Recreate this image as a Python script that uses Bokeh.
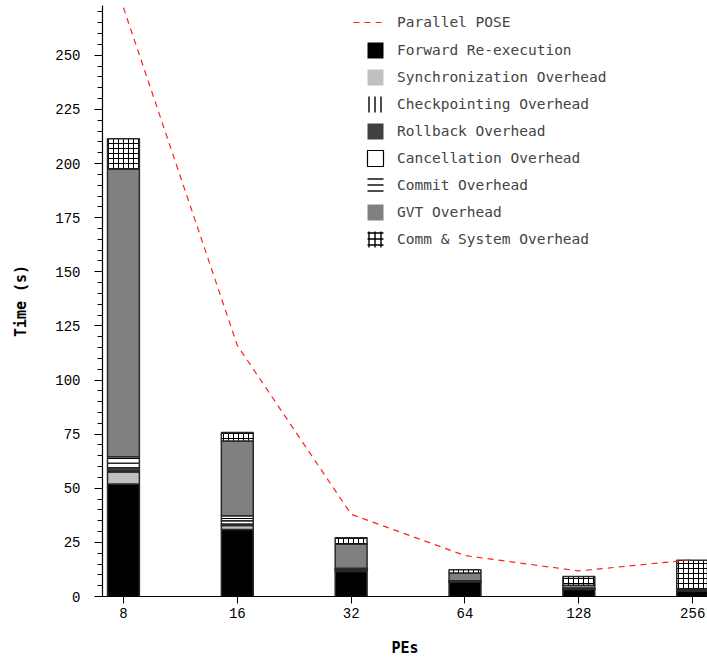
from bokeh.plotting import figure
from bokeh.models import (Range1d, FixedTicker, SingleIntervalTicker, Legend,
                          LegendItem, ColumnDataSource)
from bokeh.embed import file_html
from bokeh.resources import INLINE

# Processor counts (x categories)
pes = ["8", "16", "32", "64", "128", "256"]

# Time breakdown per component (seconds)
forward = [52.0, 31.0, 11.5, 6.6, 3.2, 2.5]
sync = [5.5, 1.8, 0.3, 0.1, 0.1, 0.1]
checkpoint = [0.5, 0.2, 0.1, 0.1, 0.1, 0.1]
rollback = [1.5, 0.5, 0.3, 0.2, 0.1, 0.1]
cancellation = [2.0, 1.5, 0.3, 0.1, 0.1, 0.1]
commit = [3.0, 2.3, 0.6, 0.2, 0.3, 0.2]
gvt = [133.0, 34.5, 11.0, 3.6, 1.3, 0.3]
comm = [14.0, 4.0, 3.0, 1.5, 4.0, 13.3]

# Total parallel run time
pose = [272.0, 116.0, 38.0, 18.9, 11.8, 17.0]

series_names = ["Forward Re-execution", "Synchronization Overhead",
                "Checkpointing Overhead", "Rollback Overhead",
                "Cancellation Overhead", "Commit Overhead", "GVT Overhead",
                "Comm & System Overhead"]
fills = ["#000000", "#c0c0c0", "#ffffff", "#404040", "#ffffff", "#ffffff",
         "#808080", "#ffffff"]
hatches = [" ", " ", "vertical_line", " ", " ", "horizontal_line", " ", "cross"]

idx = list(range(len(pes)))
keys = ["forward", "sync", "checkpoint", "rollback", "cancellation", "commit",
        "gvt", "comm"]
source = ColumnDataSource(dict(x=idx, forward=forward, sync=sync,
                               checkpoint=checkpoint, rollback=rollback,
                               cancellation=cancellation, commit=commit,
                               gvt=gvt, comm=comm))

MONO = "DejaVu Sans Mono"

p = figure(width=707, height=659, x_range=Range1d(-0.184, 5.13),
           y_range=Range1d(0, 273), output_backend="svg",
           toolbar_location=None, min_border_left=102, min_border_right=0,
           min_border_top=5, min_border_bottom=61)
p.outline_line_color = None
p.xgrid.visible = False
p.ygrid.visible = False
p.background_fill_color = "white"

BAR_W = 0.28
p.vbar_stack(keys, x="x", width=BAR_W, source=source,
             fill_color=fills, hatch_pattern=hatches,
             hatch_color="#000000", hatch_scale=5, hatch_weight=1,
             line_color="#2a2a2a", line_width=1.5)

pose_line = p.line(idx, pose, line_color="#ff2020", line_width=1.2,
                   line_dash="6 5")

# Key swatches: hidden copies of each series, styled for the legend only
bar_keys = []
for name, key, fc, hp in zip(series_names, keys, fills, hatches):
    lc = "#000000" if name == "Cancellation Overhead" else None
    r = p.vbar(x="x", top=key, source=source, width=BAR_W, fill_color=fc,
               hatch_pattern=hp, hatch_color="#000000", hatch_scale=6,
               hatch_weight=1.4, line_color=lc, line_width=1.2, visible=False)
    bar_keys.append(r)

common = dict(padding=0, margin=0, border_line_color=None,
              background_fill_alpha=0, inactive_fill_alpha=0,
              label_text_font=MONO, label_text_font_size="14.5px",
              label_height=20, glyph_height=20)
leg_line = Legend(items=[LegendItem(label="Parallel POSE", renderers=[pose_line])],
                  location=(251, 564), glyph_width=30, label_standoff=14,
                  **common)
leg_bars = Legend(items=[LegendItem(label=n, renderers=[r])
                         for n, r in zip(series_names, bar_keys)],
                  location=(263, 347), glyph_width=20, spacing=7,
                  label_standoff=12, **common)
p.add_layout(leg_line)
p.add_layout(leg_bars)

# Axes
xa = p.xaxis[0]
xa.ticker = FixedTicker(ticks=idx, minor_ticks=[])
xa.major_label_overrides = {i: s for i, s in zip(idx, pes)}
xa.axis_label = "PEs"
xa.major_tick_out = 7
xa.major_tick_in = 0
xa.major_label_standoff = 4
xa.axis_label_standoff = 18

ya = p.yaxis[0]
ya.ticker = SingleIntervalTicker(interval=25, num_minor_ticks=5)
ya.axis_label = "Time (s)"
ya.major_tick_out = 8
ya.major_tick_in = 0
ya.minor_tick_out = 5
ya.minor_tick_in = 0
ya.major_label_standoff = 14
ya.axis_label_standoff = 22

for ax in (xa, ya):
    ax.axis_line_color = "#000000"
    ax.axis_line_width = 1.2
    ax.major_tick_line_color = "#000000"
    ax.minor_tick_line_color = "#000000"
    ax.major_label_text_font = "Liberation Mono"
    ax.major_label_text_font_size = "14px"
    ax.major_label_text_color = "#000000"
    ax.axis_label_text_font = MONO
    ax.axis_label_text_font_size = "15px"
    ax.axis_label_text_font_style = "bold"
    ax.axis_label_text_color = "#000000"

open("out.html", "w").write(file_html(p, INLINE))
